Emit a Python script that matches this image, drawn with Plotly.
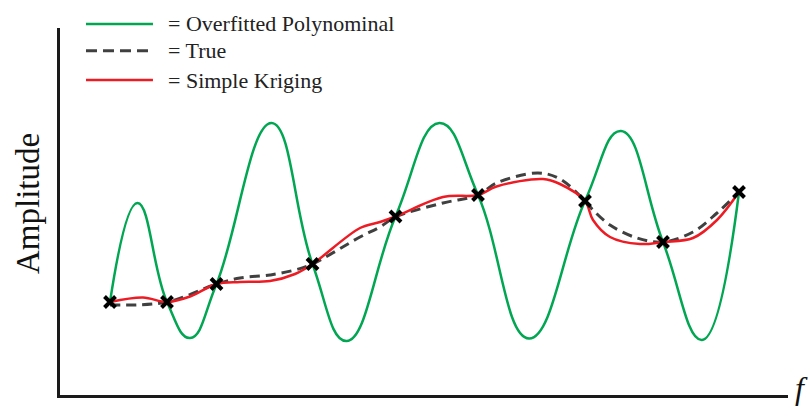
import plotly.graph_objects as go

# Sampled observations (frequency, amplitude)
obs_f = [1.00, 2.14, 3.13, 5.05, 6.71, 8.36, 10.50, 12.06, 13.58]
obs_a = [1.86, 1.86, 2.22, 2.62, 3.57, 4.00, 3.88, 3.06, 4.06]

# Overfitted high-degree polynomial: crossings and turning points
poly_f = [1.00, 1.55, 2.14, 2.60, 3.13, 4.23, 5.05, 5.73, 6.71, 7.59, 8.36,
          9.38, 10.50, 11.22, 12.06, 12.84, 13.58]
poly_a = [1.86, 3.84, 1.86, 1.14, 2.22, 5.44, 2.62, 1.08, 3.57, 5.44, 4.00,
          1.13, 3.88, 5.28, 3.06, 1.10, 4.06]

# Underlying true signal
true_f = [1.00, 2.14, 3.13, 3.60, 4.20, 4.70, 5.05, 6.00, 6.40, 6.71, 7.66, 8.36,
          8.73, 9.56, 10.00, 10.50, 10.66, 11.00, 11.54, 12.06, 12.66, 13.14, 13.58]
true_a = [1.80, 1.86, 2.22, 2.34, 2.40, 2.50, 2.62, 3.16, 3.36, 3.56, 3.84, 4.00,
          4.24, 4.44, 4.32, 3.88, 3.70, 3.40, 3.14, 3.06, 3.26, 3.64, 4.06]

# Simple kriging interpolation
krig_f = [1.00, 1.66, 2.14, 2.60, 3.13, 3.60, 4.20, 4.70, 5.05, 6.00, 6.40, 6.71,
          7.66, 8.36, 8.73, 9.66, 10.00, 10.50, 10.66, 11.00, 11.60, 12.06, 12.66,
          13.14, 13.58]
krig_a = [1.86, 1.95, 1.86, 1.97, 2.22, 2.26, 2.28, 2.42, 2.62, 3.34, 3.46, 3.57,
          3.96, 4.00, 4.17, 4.32, 4.22, 3.88, 3.50, 3.16, 3.02, 3.06, 3.14,
          3.50, 4.06]

GREEN = "#00a651"
GRAY = "#404040"
RED = "#ed1c24"
FONT = "Liberation Serif"

fig = go.Figure()
fig.add_trace(go.Scatter(x=poly_f, y=poly_a, mode="lines",
                         line=dict(color=GREEN, width=2.5, shape="spline", smoothing=1.3)))
fig.add_trace(go.Scatter(x=true_f, y=true_a, mode="lines",
                         line=dict(color=GRAY, width=3, dash="10px,6px",
                                   shape="spline", smoothing=1.0)))
fig.add_trace(go.Scatter(x=krig_f, y=krig_a, mode="lines",
                         line=dict(color=RED, width=2.5, shape="spline", smoothing=1.0)))
fig.add_trace(go.Scatter(x=obs_f, y=obs_a, mode="markers",
                         marker=dict(symbol="x-thin", size=11, color="black",
                                     line=dict(color="black", width=4))))

# Legend drawn as line samples with "= label" text
legend_rows = [
    ("= Overfitted Polynominal", GREEN, "solid", 1.011),
    ("= True", GRAY, "dash", 0.938),
    ("= Simple Kriging", RED, "solid", 0.858),
]
for label, color, dash, yy in legend_rows:
    fig.add_shape(type="line", xref="paper", yref="paper",
                  x0=0.0357, x1=0.1277, y0=yy, y1=yy,
                  line=dict(color=color, width=2.5 if dash == "solid" else 3,
                            dash="solid" if dash == "solid" else "11px,6px"))
    fig.add_annotation(text=label, xref="paper", yref="paper", x=0.1456, y=yy,
                       xanchor="left", yanchor="middle", showarrow=False,
                       font=dict(family=FONT, size=22, color="#222222"))

fig.add_annotation(text="Amplitude", xref="paper", yref="paper", x=-0.044, y=0.523,
                   xanchor="center", yanchor="middle", textangle=-90, showarrow=False,
                   font=dict(family=FONT, size=33, color="#111111"))
fig.add_annotation(text="<i>f</i>", xref="paper", yref="paper", x=1.018, y=0.02,
                   xanchor="center", yanchor="middle", showarrow=False,
                   font=dict(family=FONT, size=32, color="#111111"))

axis_common = dict(showgrid=False, zeroline=False, showticklabels=False, ticks="",
                   showline=True, linecolor="#1a1a1a", linewidth=2.5, fixedrange=True)
fig.update_layout(
    width=808, height=407,
    margin=dict(l=60, r=20, t=28, b=12),
    paper_bgcolor="white", plot_bgcolor="white",
    showlegend=False,
    xaxis=dict(range=[0, 14.56], **axis_common),
    yaxis=dict(range=[0, 7.34], **axis_common),
)

fig.write_html("out.html")
